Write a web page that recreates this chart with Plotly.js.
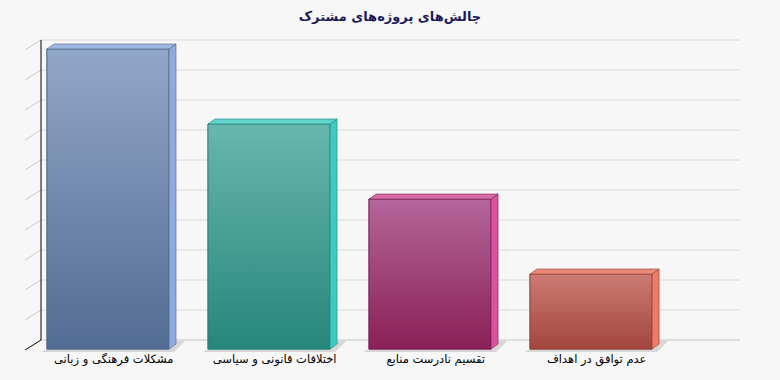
<!DOCTYPE html>
<html>
<head>
<meta charset="utf-8">
<script src="https://cdn.plot.ly/plotly-3.0.1.min.js"></script>
<style>html,body{margin:0;padding:0;background:#f7f7f7;}#chart{width:780px;height:380px;}</style>
</head>
<body>
<div id="chart"></div>
<script>
// ---- data ----
var categories = ["مشکلات فرهنگی و زبانی", "اختلافات قانونی و سیاسی", "تقسیم نادرست منابع", "عدم توافق در اهداف"];
var values = [40, 30, 20, 10];
var tickValues = [0, 4, 8, 12, 16, 20, 24, 28, 32, 36, 40];
var titleText = "چالش‌های پروژه‌های مشترک";

// ---- styles ----
var frontTop = ["#91a7c8", "#67b7ae", "#b4669a", "#cc7b74"];
var frontBottom = ["#536c93", "#27867c", "#8a2058", "#a2463d"];
var frontMid = ["#7189b0", "#459f95", "#a04279", "#b86159"];
var sideCol = ["#8eaade", "#3fcac0", "#dc529f", "#ee7a6a"];
var topCol = ["#9fb6e2", "#5ed3c9", "#d86aa5", "#eb8a79"];
var edgeCol = ["#4d6488", "#23807a", "#7a1f50", "#8f3d35"];

var FONT = "Tahoma, 'DejaVu Sans', sans-serif";
var PX_X = 161;          // pixels per category unit
var PX_Y = 7.5;          // pixels per value unit
var barW = 0.758;
var dX = 7 / PX_X, dY = 5 / PX_Y;          // bar depth
var shift = 9 / PX_Y;                      // front face lowered from the back wall
var wallDX = 16 / PX_X, wallDY = 10 / PX_Y; // side wall depth
var wallX = -0.416, wallRight = 3.925;

var traces = [];
// front faces as bars
traces.push({
  type: "bar", x: [0, 1, 2, 3], y: values, base: -shift, width: barW,
  marker: {color: frontMid, line: {color: edgeCol, width: 1}},
  hoverinfo: "skip", showlegend: false
});
values.forEach(function (v, i) {
  var xl = i - barW / 2, xr = i + barW / 2, b = -shift, t = v - shift;
  // gradient front
  traces.push({
    type: "scatter", mode: "lines", x: [xl, xr, xr, xl, xl], y: [b, b, t, t, b],
    fill: "toself", fillgradient: {type: "vertical", colorscale: [[0, frontBottom[i]], [1, frontTop[i]]]},
    line: {color: edgeCol[i], width: 0.8}, hoverinfo: "skip", showlegend: false
  });
  // side
  traces.push({
    type: "scatter", mode: "lines", x: [xr, xr + dX, xr + dX, xr, xr], y: [b, b + dY, t + dY, t, b],
    fill: "toself", fillcolor: sideCol[i],
    line: {color: edgeCol[i], width: 0.6}, hoverinfo: "skip", showlegend: false
  });
  // top
  traces.push({
    type: "scatter", mode: "lines", x: [xl, xr, xr + dX, xl + dX, xl], y: [t, t, t + dY, t + dY, t],
    fill: "toself", fillcolor: topCol[i],
    line: {color: edgeCol[i], width: 0.6}, hoverinfo: "skip", showlegend: false
  });
});

var shapes = [];
tickValues.forEach(function (tv, k) {
  shapes.push({type: "line", xref: "x", yref: "y", x0: wallX, x1: wallRight, y0: tv, y1: tv,
    line: {color: k === 0 ? "#c4c4c4" : "#dadada", width: 1}, layer: "below"});
  shapes.push({type: "line", xref: "x", yref: "y", x0: wallX - wallDX, x1: wallX, y0: tv - wallDY, y1: tv,
    line: {color: k === 0 ? "#000000" : "#c8c8c8", width: 1}, layer: "below"});
});
shapes.push({type: "line", xref: "x", yref: "y", x0: wallX, x1: wallX, y0: 0, y1: tickValues[tickValues.length - 1],
  line: {color: "#000000", width: 1}, layer: "below"});
// floor shadows under the bars
values.forEach(function (v, i) {
  var xl = i - barW / 2, xr = i + barW / 2, b = -shift;
  var p = [[xl - 5 / PX_X, b - 3 / PX_Y], [xr + 5 / PX_X, b - 3 / PX_Y],
           [xr + dX + 9 / PX_X, b + 8 / PX_Y], [xl + 10 / PX_X, b + 8 / PX_Y]];
  shapes.push({type: "path", xref: "x", yref: "y", layer: "between",
    path: "M" + p.map(function (q) { return q[0] + "," + q[1]; }).join("L") + "Z",
    fillcolor: "#d6d6d6", line: {width: 0}});
});

var layout = {
  width: 780, height: 380,
  paper_bgcolor: "#f7f7f7", plot_bgcolor: "#f7f7f7",
  margin: {l: 25, r: 40, t: 38, b: 28},
  title: {text: "<b>" + titleText + "</b>", x: 0.5, xanchor: "center", y: 0.958, yanchor: "middle",
    font: {family: FONT, size: 13, color: "#1c1c5a"}},
  xaxis: {range: [-0.5155, 3.925], tickvals: [0.035, 1.035, 2.035, 3.035], ticktext: categories,
    showgrid: false, zeroline: false, showline: false, ticks: "", fixedrange: true,
    ticklabelstandoff: -2,
    tickfont: {family: FONT, size: 11.5, color: "#000000"}},
  yaxis: {range: [-1.6, 40.267], visible: false, showgrid: false, zeroline: false, fixedrange: true},
  shapes: shapes,
  showlegend: false,
  bargap: 0
};
Plotly.newPlot("chart", traces, layout, {displayModeBar: false, staticPlot: true});
</script>
</body>
</html>
